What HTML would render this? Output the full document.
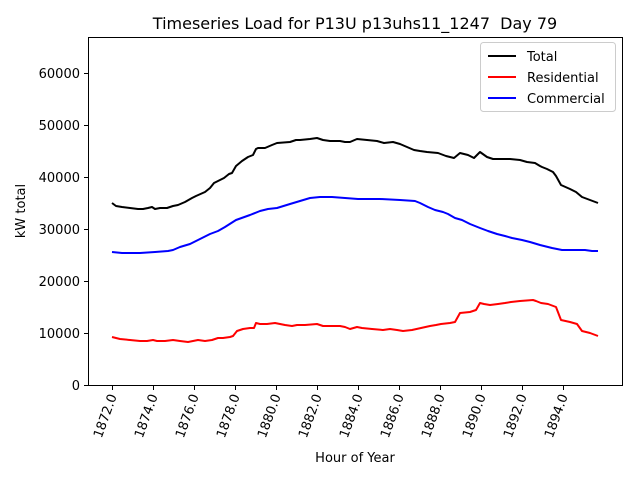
<!DOCTYPE html>
<html><head><meta charset="utf-8"><style>body{margin:0;background:#fff}svg{display:block}text{font-family:"DejaVu Sans","Liberation Sans",sans-serif;fill:#000}</style></head><body>
<svg width="640" height="480" viewBox="0 0 640 480" xmlns="http://www.w3.org/2000/svg">
<rect width="640" height="480" fill="#fff"/>
<text x="355" y="29" font-size="16" text-anchor="middle">Timeseries Load for P13U p13uhs11_1247&#160; Day 79</text>
<g fill="none" stroke-width="2" stroke-linejoin="round">
<polyline stroke="#000" points="112,203 116,206 122,207 130,208 138,209 143,209 148,208 152,207 155,209 160,208 167,208 173,206 178,205 185,202 192,198 196,196 205,192 210,188 214,183 220,180 224,178 229,174 232,173 236,166 242,161 248,157 253,155 256,149 258,148 265,148 272,145 277,143 290,142 296,140 300,140 310,139 317,138 323,140 330,141 340,141 345,142 350,142 357,139 367,140 377,141 384,143 393,142 400,144 407,147 414,150 420,151 427,152 438,153 446,156 454,158 460,153 468,155 474,158 480,152 487,157 493,159 510,159 520,160 527,162 535,163 540,166 542,167 547,169 553,172 556,176 561,185 570,189 576,192 582,197 590,200 598,203"/>
<polyline stroke="#f00" points="112,337 120,339 130,340 140,341 147,341 153,340 157,341 165,341 173,340 180,341 188,342 193,341 198,340 205,341 212,340 218,338 223,338 230,337 233,336 237,331 243,329 250,328 254,328 256,323 260,324 267,324 275,323 285,325 292,326 297,325 305,325 317,324 323,326 330,326 340,326 345,327 350,329 357,327 362,328 372,329 383,330 390,329 397,330 403,331 412,330 421,328 430,326 436,325 441,324 450,323 455,322 460,313 470,312 476,310 480,303 484,304 490,305 498,304 505,303 511,302 520,301 533,300 536,301 541,303 548,304 556,307 561,320 570,322 577,324 582,331 590,333 598,336"/>
<polyline stroke="#00f" points="112,252 122,253 140,253 155,252 168,251 173,250 180,247 190,244 200,239 210,234 218,231 225,227 236,220 250,215 260,211 268,209 277,208 290,204 300,201 310,198 320,197 332,197 345,198 358,199 380,199 400,200 415,201 420,203 428,207 435,210 443,212 448,214 455,218 462,220 470,224 480,228 488,231 497,234 505,236 512,238 522,240 530,242 540,245 552,248 562,250 575,250 585,250 592,251 598,251"/>
</g>
<rect x="88.5" y="37.5" width="534" height="348" fill="none" stroke="#000" stroke-width="1"/>
<g stroke="#000" stroke-width="1">
<line x1="84" y1="385.5" x2="88" y2="385.5"/><line x1="84" y1="333.5" x2="88" y2="333.5"/><line x1="84" y1="281.5" x2="88" y2="281.5"/><line x1="84" y1="229.5" x2="88" y2="229.5"/><line x1="84" y1="177.5" x2="88" y2="177.5"/><line x1="84" y1="125.5" x2="88" y2="125.5"/><line x1="84" y1="73.5" x2="88" y2="73.5"/>
</g>
<g font-size="13" text-anchor="end">
<text x="80" y="390">0</text><text x="80" y="338">10000</text><text x="80" y="286">20000</text><text x="80" y="234">30000</text><text x="80" y="182">40000</text><text x="80" y="130">50000</text><text x="80" y="78">60000</text>
</g>
<g stroke="#000" stroke-width="1">
<line x1="112.5" y1="386" x2="112.5" y2="390"/><line x1="153.5" y1="386" x2="153.5" y2="390"/><line x1="194.5" y1="386" x2="194.5" y2="390"/><line x1="235.5" y1="386" x2="235.5" y2="390"/><line x1="276.5" y1="386" x2="276.5" y2="390"/><line x1="317.5" y1="386" x2="317.5" y2="390"/><line x1="358.5" y1="386" x2="358.5" y2="390"/><line x1="399.5" y1="386" x2="399.5" y2="390"/><line x1="440.5" y1="386" x2="440.5" y2="390"/><line x1="481.5" y1="386" x2="481.5" y2="390"/><line x1="522.5" y1="386" x2="522.5" y2="390"/><line x1="563.5" y1="386" x2="563.5" y2="390"/>
</g>
<g font-size="13" text-anchor="end">
<text transform="translate(117,396) rotate(-70)">1872.0</text>
<text transform="translate(158,396) rotate(-70)">1874.0</text>
<text transform="translate(199,396) rotate(-70)">1876.0</text>
<text transform="translate(240,396) rotate(-70)">1878.0</text>
<text transform="translate(281,396) rotate(-70)">1880.0</text>
<text transform="translate(322,396) rotate(-70)">1882.0</text>
<text transform="translate(363,396) rotate(-70)">1884.0</text>
<text transform="translate(404,396) rotate(-70)">1886.0</text>
<text transform="translate(445,396) rotate(-70)">1888.0</text>
<text transform="translate(486,396) rotate(-70)">1890.0</text>
<text transform="translate(527,396) rotate(-70)">1892.0</text>
<text transform="translate(568,396) rotate(-70)">1894.0</text>
</g>
<text x="355" y="462" font-size="13" text-anchor="middle">Hour of Year</text>
<text transform="translate(25,211) rotate(-90)" font-size="13" text-anchor="middle">kW total</text>
<rect x="480.5" y="42.5" width="135" height="69" rx="3" fill="#fff" stroke="#ccc"/>
<g stroke-width="2"><line x1="488" y1="56" x2="516" y2="56" stroke="#000"/><line x1="488" y1="77" x2="516" y2="77" stroke="#f00"/><line x1="488" y1="98" x2="516" y2="98" stroke="#00f"/></g>
<g font-size="13"><text x="527" y="61">Total</text><text x="527" y="82">Residential</text><text x="527" y="103">Commercial</text></g>
</svg>
</body></html>
